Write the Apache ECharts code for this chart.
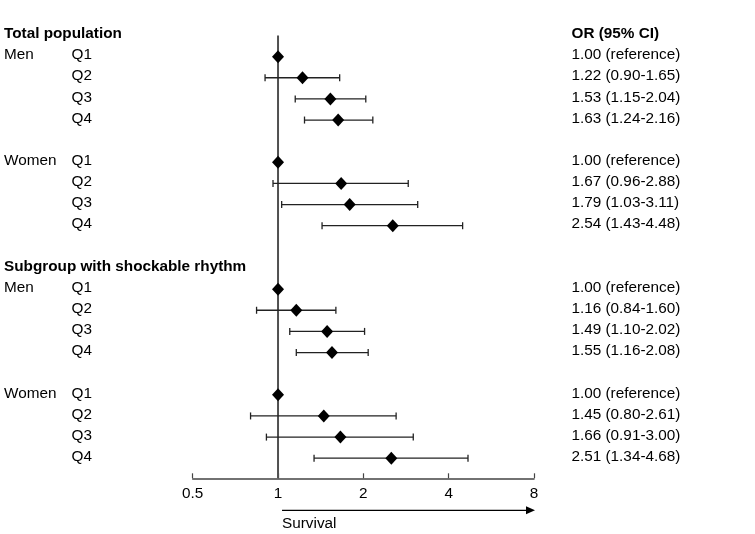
<!DOCTYPE html>
<html><head><meta charset="utf-8">
<script src="https://cdn.jsdelivr.net/npm/echarts@6/dist/echarts.min.js"></script>
<style>html,body{margin:0;padding:0;background:#fff}#c{width:755px;height:534px}</style>
</head><body><div id="c"></div>
<script>
// ---- data ----
const sections = ['Total population', 'Subgroup with shockable rhythm'];
const groups = ['Men', 'Women'];
const quartiles = ['Q1', 'Q2', 'Q3', 'Q4'];
const orHeader = 'OR (95% CI)';
const xTicks = [0.5, 1, 2, 4, 8];
const axisTitle = 'Survival';

const totalMenOR = [1.00, 1.22, 1.53, 1.63];
const totalMenLo = [null, 0.90, 1.15, 1.24];
const totalMenHi = [null, 1.65, 2.04, 2.16];
const totalWomenOR = [1.00, 1.67, 1.79, 2.54];
const totalWomenLo = [null, 0.96, 1.03, 1.43];
const totalWomenHi = [null, 2.88, 3.11, 4.48];
const shockMenOR = [1.00, 1.16, 1.49, 1.55];
const shockMenLo = [null, 0.84, 1.10, 1.16];
const shockMenHi = [null, 1.60, 2.02, 2.08];
const shockWomenOR = [1.00, 1.45, 1.66, 2.51];
const shockWomenLo = [null, 0.80, 0.91, 1.34];
const shockWomenHi = [null, 2.61, 3.00, 4.68];

const blocks = [
  [[totalMenOR, totalMenLo, totalMenHi], [totalWomenOR, totalWomenLo, totalWomenHi]],
  [[shockMenOR, shockMenLo, shockMenHi], [shockWomenOR, shockWomenLo, shockWomenHi]]
];

// ---- build rows ----
const FONT = "'Liberation Sans', Arial, sans-serif";
const FS = 15.3;
const textRows = []; // {row, col, text, bold}
const points = [];   // [or, row]
const bars = [];     // [lo, hi, row]
textRows.push({row: 0, col: 2, text: orHeader, bold: true});
sections.forEach((s, si) => {
  const base = si * 11;
  textRows.push({row: base, col: 0, text: s, bold: true});
  groups.forEach((g, gi) => {
    const [ors, los, his] = blocks[si][gi];
    quartiles.forEach((q, qi) => {
      const row = base + 1 + gi * 5 + qi;
      if (qi === 0) textRows.push({row, col: 0, text: g, bold: false});
      textRows.push({row, col: 1, text: q, bold: false});
      const t = los[qi] == null ? ors[qi].toFixed(2) + ' (reference)'
        : ors[qi].toFixed(2) + ' (' + los[qi].toFixed(2) + '-' + his[qi].toFixed(2) + ')';
      textRows.push({row, col: 2, text: t, bold: false});
      points.push([ors[qi], row]);
      if (los[qi] != null) bars.push([los[qi], his[qi], row]);
    });
  });
});

const colX = [4, 71.5, 571.5];
const chart = echarts.init(document.getElementById('c'), null, {renderer: 'canvas'});
chart.setOption({
  animation: false,
  backgroundColor: '#fff',
  grid: {left: 192.7, right: 221, top: 35.5, bottom: 55.7, containLabel: false},
  xAxis: {
    type: 'log', logBase: 2, min: 0.5, max: 8, position: 'bottom',
    splitLine: {show: false},
    axisLine: {show: true, onZero: false, lineStyle: {color: '#444', width: 1.5}},
    axisTick: {show: true, inside: true, length: 5, lineStyle: {color: '#444', width: 1.2}},
    axisLabel: {color: '#000', fontSize: FS, fontFamily: FONT, margin: 8,
      formatter: v => String(Number(v.toPrecision(3)))},
    minorTick: {show: false}
  },
  yAxis: {type: 'value', min: 0, max: 20.95, inverse: true, show: false},
  series: [
    { // reference line at OR = 1
      type: 'line', data: [[1, 0], [1, 20.95]], symbol: 'none', z: 1,
      lineStyle: {color: '#505050', width: 2}
    },
    { // confidence intervals
      type: 'custom', z: 2, data: bars, encode: {x: [0, 1], y: 2},
      renderItem: (params, api) => {
        const a = api.coord([api.value(0), api.value(2)]);
        const b = api.coord([api.value(1), api.value(2)]);
        const st = {stroke: '#222', lineWidth: 1.3};
        return {type: 'group', children: [
          {type: 'line', shape: {x1: a[0], y1: a[1], x2: b[0], y2: b[1]}, style: st},
          {type: 'line', shape: {x1: a[0], y1: a[1] - 3.5, x2: a[0], y2: a[1] + 3.5}, style: st},
          {type: 'line', shape: {x1: b[0], y1: b[1] - 3.5, x2: b[0], y2: b[1] + 3.5}, style: st}
        ]};
      }
    },
    { // point estimates
      type: 'scatter', z: 3, data: points, symbol: 'diamond', symbolSize: [12, 13],
      itemStyle: {color: '#000', opacity: 1}
    },
    { // text columns
      type: 'custom', z: 4, data: textRows.map(r => [1, r.row]), encode: {x: 0, y: 1},
      renderItem: (params, api) => {
        const r = textRows[params.dataIndex];
        const y = api.coord([1, r.row])[1] - 1.5;
        return {type: 'text', x: colX[r.col], y: y, style: {
          text: r.text, fill: '#000', fontSize: FS, fontFamily: FONT,
          fontWeight: r.bold ? 'bold' : 'normal', verticalAlign: 'middle', align: 'left'}};
      }
    },
    { // direction arrow under the axis
      type: 'custom', z: 4, data: [[1, 20.95]], encode: {x: 0, y: 1},
      renderItem: (params, api) => {
        const p0 = api.coord([1, 20.95]);
        const p1 = api.coord([8, 20.95]);
        const y = p0[1] + 32;
        const x0 = p0[0] + 4, x1 = p1[0] + 1;
        return {type: 'group', children: [
          {type: 'line', shape: {x1: x0, y1: y, x2: x1 - 8, y2: y}, style: {stroke: '#000', lineWidth: 1.2}},
          {type: 'polygon', shape: {points: [[x1, y], [x1 - 9, y - 4], [x1 - 9, y + 4]]}, style: {fill: '#000'}},
          {type: 'text', x: x0, y: y + 13, style: {text: axisTitle, fill: '#000', fontSize: FS, fontFamily: FONT, verticalAlign: 'middle'}}
        ]};
      }
    }
  ]
});
</script></body></html>
